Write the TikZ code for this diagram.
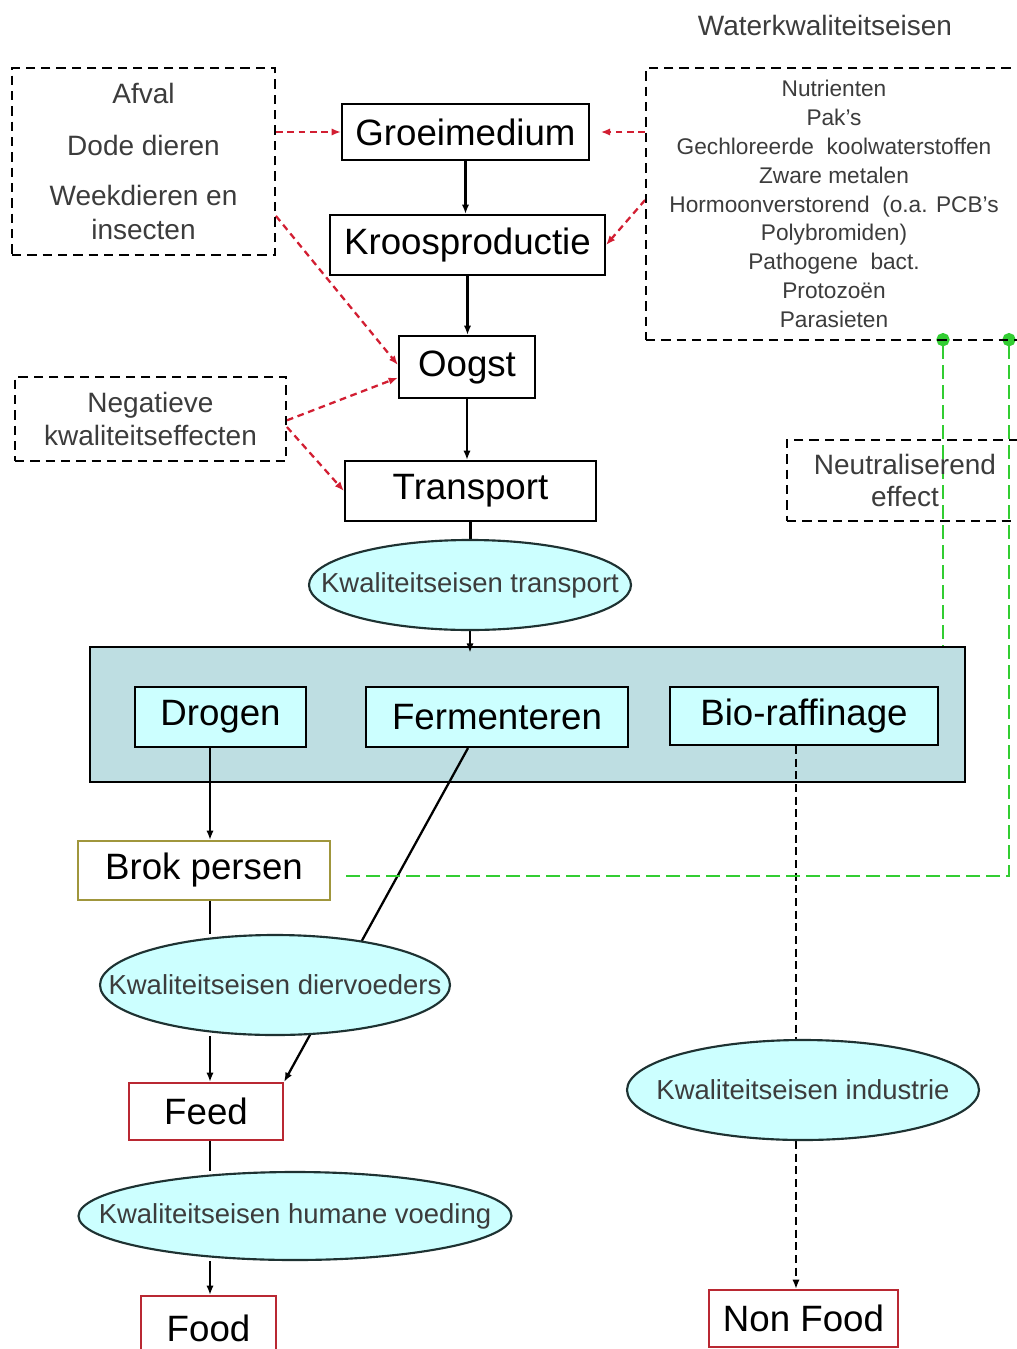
\documentclass[tikz,border=0pt]{standalone}
\usepackage{fontspec}
\setmainfont{Liberation Sans}
\usetikzlibrary{arrows.meta,shapes.geometric}
\definecolor{boxfill}{RGB}{204,255,255}
\definecolor{bigfill}{RGB}{190,222,226}
\definecolor{brokcol}{RGB}{160,150,60}
\definecolor{feedred}{RGB}{185,40,50}
\definecolor{dashred}{RGB}{210,30,50}
\definecolor{dashgreen}{RGB}{50,205,50}
\definecolor{txtgray}{RGB}{60,60,60}
\definecolor{ellborder}{RGB}{30,50,50}
\pgfdeclarelayer{back}
\pgfdeclarelayer{bg}
\pgfsetlayers{back,bg,main}
\begin{document}
\begin{tikzpicture}[x=0.75pt,y=-0.75pt,
  sz/.style 2 args={minimum width={#1*0.75pt},minimum height={#2*0.75pt}},
  mainbox/.style={draw,line width=1.6pt,inner sep=0pt,fill=white,font=\fontsize{27.5}{30}\selectfont},
  cyanbox/.style={mainbox,fill=boxfill},
  outbox/.style={mainbox,draw=feedred},
  dbox/.style={draw,line width=1.4pt,dash pattern=on 7pt off 4.5pt,align=center,text=txtgray,inner sep=0pt,font=\fontsize{21}{25.5}\selectfont},
  ell/.style={ellipse,draw=ellborder,line width=1.6pt,fill=boxfill,inner sep=0pt,font=\fontsize{20.6}{24}\selectfont,text=txtgray},
  tip/.style={-{Latex[length=7pt,width=5.5pt]}},
  con/.style={line width=1.7pt},
  bdash/.style={dash pattern=on 6pt off 3.5pt},
  rcon/.style={con,dashred,dash pattern=on 5pt off 3.5pt,tip},
  gcon/.style={line width=1.7pt,dashgreen,dash pattern=on 10pt off 5pt,{Circle[length=10pt]}-}
]
\useasboundingbox (0,0) rectangle (1017,1349);
\begin{pgfonlayer}{back}
\fill[white] (0,0) rectangle (1017,1349);
\node[draw,line width=1.6pt,fill=bigfill,sz={875}{135}] (proc) at (527.5,714.5) {};
\end{pgfonlayer}

% title
\node[text=txtgray,font=\fontsize{21}{25}\selectfont] (title) at (825,25) {Waterkwaliteitseisen};

% main column
\node[mainbox,sz={247}{56}] (groei) at (465.5,132) {Groeimedium};
\node[mainbox,sz={275}{60}] (kroos) at (467.5,245) {Kroosproductie};
\node[mainbox,sz={136}{62}] (oogst) at (467,367) {Oogst};
\node[mainbox,sz={251}{60}] (transp) at (470.5,491) {Transport};

% dashed boxes
\node[dbox,sz={263}{187}] (afval) at (143.5,161.5) {Afval\\[13.5pt]Dode dieren\\[12pt]Weekdieren en\\insecten};
\node[dbox,sz={271}{84},font=\fontsize{21}{24.75}\selectfont] (neg) at (150.5,419) {Negatieve\\kwaliteitseffecten};
\node[dbox,sz={376}{272},font=\fontsize{17}{21.6}\selectfont] (water) at (834,204) {Nutrienten\\Pak's\\Gechloreerde\ \ koolwaterstoffen\\Zware metalen\\Hormoonverstorend\ \ (o.a. PCB's\\Polybromiden)\\Pathogene\ \ bact.\\Protozoën\\Parasieten};
\node[dbox,sz={236}{81},font=\fontsize{21}{24}\selectfont] (neutral) at (905,480.5) {Neutraliserend\\effect};

% process boxes
\node[cyanbox,sz={171}{60}] (drogen) at (220.5,717) {Drogen};
\node[cyanbox,sz={262}{60}] (ferm) at (497,717) {Fermenteren};
\node[cyanbox,sz={268}{58}] (bio) at (804,716) {Bio-raffinage};

% outputs
\node[mainbox,draw=brokcol,sz={252}{59}] (brok) at (204,870.5) {Brok persen};
\node[outbox,sz={154}{57}] (feed) at (206,1111.5) {Feed};
\node[outbox,sz={135}{64}] (food) at (208.5,1328) {Food};
\node[outbox,sz={189}{57}] (nonfood) at (803.5,1318.5) {Non Food};

% ellipses
\node[ell,sz={322}{90}] (etr) at (470,585) {\makebox[0pt]{Kwaliteitseisen transport}};
\node[ell,sz={350}{100}] (edier) at (275,985) {\makebox[0pt]{Kwaliteitseisen diervoeders}};
\node[ell,sz={433}{88}] (ehum) at (295,1216) {\makebox[0pt]{Kwaliteitseisen humane voeding}};
\node[ell,sz={352}{100}] (eind) at (803,1090) {\makebox[0pt]{Kwaliteitseisen industrie}};

% helper coordinates
\coordinate (colx) at (210,0);
\coordinate (colr) at (796,0);
\coordinate (g1) at (943,333);
\coordinate (g2) at (1009,333);

\begin{pgfonlayer}{bg}
\draw[con,tip] (groei.south) -- (groei.south |- kroos.north);
\draw[con,tip] (kroos.south) -- (kroos.south |- oogst.north);
\draw[con,tip] (oogst.south) -- (oogst.south |- transp.north);
\draw[con] (transp.south) -- (transp.south |- etr.north);
\draw[con,tip] (etr.south) -- ([yshift=-5pt]etr.south |- proc.north);
\draw[con,tip] (drogen.south -| colx) -- (brok.north -| colx);
\draw[con,tip] ([xshift=-21.75pt]ferm.south) -- (feed.north east);
\draw[con] (brok.south -| colx) -- (edier.north -| colx);
\draw[con,tip] (edier.south -| colx) -- (feed.north -| colx);
\draw[con] (feed.south -| colx) -- (ehum.north -| colx);
\draw[con,tip] (ehum.south -| colx) -- (food.north -| colx);
\draw[con,bdash] (bio.south -| colr) -- (eind.north -| colr);
\draw[con,bdash,tip] (eind.south -| colr) -- (nonfood.north -| colr);
% red dashed influences
\draw[rcon] (afval.east |- groei.west) -- (groei.west);
\draw[rcon] (water.west |- groei.east) -- ([xshift=8pt]groei.east);
\draw[rcon] ([yshift=3pt]water.west) -- (kroos.east);
\draw[rcon] ([yshift=30pt]afval.south east) -- ([yshift=1.5pt]oogst.west);
\draw[rcon] ([yshift=-1pt]neg.east) -- ([yshift=-8pt]oogst.west);
\draw[rcon] ([yshift=-6pt]neg.east) -- (transp.west);
% green neutralising
\draw[gcon] (g1) -- (g1 |- proc.north);
\draw[gcon] (g2) |- ([shift={(7.5pt,-4pt)}]brok.east);
\end{pgfonlayer}
\end{tikzpicture}
\end{document}
